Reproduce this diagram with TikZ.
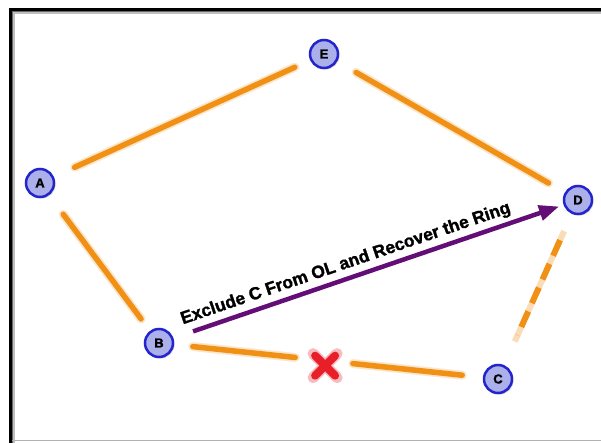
\documentclass[tikz,border=0pt]{standalone}
\usepackage{fontspec}
\setmainfont{Liberation Sans}
\newfontfamily\heavyfont[FakeBold=1.5]{Liberation Sans Bold}
\usetikzlibrary{calc,shadows,arrows.meta}
\definecolor{ringorange}{RGB}{240,145,22}
\definecolor{nodefill}{RGB}{172,176,234}
\definecolor{nodeline}{RGB}{36,36,205}
\definecolor{arrowpurple}{RGB}{98,14,118}
\definecolor{crossred}{RGB}{232,30,40}
\tikzset{
  ringnode/.style={circle, minimum size=28pt, inner sep=0pt, fill=nodefill, draw=nodeline,
    line width=2.5pt, font=\heavyfont\fontsize{13}{13}\selectfont,
    drop shadow={opacity=0.35, shadow xshift=1.5pt, shadow yshift=-1.5pt}},
  edgeglow/.style={draw=ringorange, line width=9pt, opacity=0.22, line cap=round},
  edgecore/.style={draw=ringorange, line width=5.5pt, line cap=round},
  edgedash/.style={draw=ringorange, line width=6pt, dash pattern=on 17pt off 9pt},
  recover/.style={draw=arrowpurple, line width=4.5pt, -{Triangle[length=20pt,width=15pt]}},
  crossmark/.style={draw=crossred, line width=8pt, line cap=round},
  labeltext/.style={font=\heavyfont\fontsize{17.5}{17.5}\selectfont, text=black, inner sep=0pt}
}
\begin{document}
\begin{tikzpicture}[x=1pt,y=-1pt]
\useasboundingbox (0,0) rectangle (601,443);
\fill[white] (0,0) rectangle (601,443);
% frame
\draw[black!25, line width=2pt] (14,443) -- (14,13) -- (601,13);
\draw[black!60, line width=1.5pt] (12.5,443) -- (12.5,11.5) -- (601,11.5);
\draw[black, line width=3pt] (10.5,443) -- (10.5,9.5) -- (601,9.5);
\draw[black!30, line width=1.5pt] (12,440.5) -- (601,440.5);
% nodes
\node[ringnode] (A) at (40,183) {A};
\node[ringnode] (E) at (324,54) {E};
\node[ringnode] (D) at (578,200) {D};
\node[ringnode] (B) at (159,343) {B};
\node[ringnode] (C) at (498,379) {C};
% ring edges
\foreach \s/\t/\a/\b in {A/E/38/32, E/D/37/34, A/B/39/30}{
  \draw[edgeglow] ($(\s.center)!\a pt!(\t.center)$) -- ($(\t.center)!\b pt!(\s.center)$);
  \draw[edgecore] ($(\s.center)!\a pt!(\t.center)$) -- ($(\t.center)!\b pt!(\s.center)$);
}
% broken link B-C
\coordinate (X) at ($(B.center)!0.49!(C.center)+(0,5)$);
\draw[edgeglow] ($(B.center)!34pt!(C.center)$) -- ($(B.center)!137pt!(C.center)$);
\draw[edgecore] ($(B.center)!34pt!(C.center)$) -- ($(B.center)!137pt!(C.center)$);
\draw[edgeglow] ($(B.center)!195pt!(C.center)$) -- ($(C.center)!36pt!(B.center)$);
\draw[edgecore] ($(B.center)!195pt!(C.center)$) -- ($(C.center)!36pt!(B.center)$);
% cross
\draw[crossmark, opacity=0.3, line width=11pt] ($(X)+(-12,-12)$) -- ($(X)+(12,12)$) ($(X)+(12,-12)$) -- ($(X)+(-12,12)$);
\draw[crossmark] ($(X)+(-10,-10)$) -- ($(X)+(10,10)$) ($(X)+(10,-10)$) -- ($(X)+(-10,10)$);
% dashed C-D
\draw[edgedash, opacity=0.3] ($(D.center)!34pt!(C.center)$) -- ($(C.center)!40pt!(D.center)$);
\draw[edgedash] ($(D.center)!44pt!(C.center)$) -- ($(C.center)!48pt!(D.center)$);
% recovery arrow
\draw[recover] ($(B.center)!36pt!(D.center)$) -- ($(D.center)!20pt!(B.center)$)
  node[labeltext, pos=0.43, sloped, above=4pt] {Exclude C From OL and Recover the Ring};
\end{tikzpicture}
\end{document}
